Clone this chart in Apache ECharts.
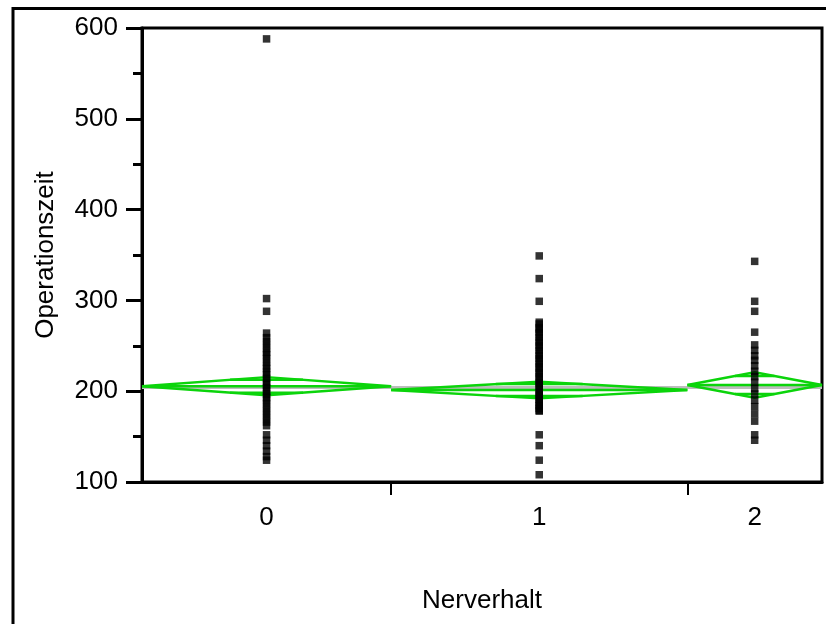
<!DOCTYPE html>
<html>
<head>
<meta charset="utf-8">
<script src="https://cdn.jsdelivr.net/npm/echarts@6/dist/echarts.min.js"></script>
<style>
html,body{margin:0;padding:0;background:#fff;}
#chart{width:826px;height:624px;}
</style>
</head>
<body>
<div id="chart"></div>
<script>
// ---- data ----
const groupLabels = ['0', '1', '2'];
const groupN = [37, 44, 20];
const groupMeans = [205.5, 201.3, 206.8];
const ciHalf = [10, 9.2, 14];
const grandMean = 204;
const yMin = 100, yMax = 600, yStep = 100;

const values0 = [588, 302, 288, 264, 259, 255, 251, 247, 243, 240, 236, 232, 228, 225, 221, 218, 214, 210, 207, 204, 200, 197, 193, 190, 186, 182, 178, 174, 170, 166, 162, 152, 146, 140, 134, 128, 124];
const values1 = [349, 324, 299, 276, 274, 270, 268, 265, 263, 259, 256, 254, 250, 248, 245, 241, 239, 236, 233, 230, 227, 225, 221, 219, 216, 213, 210, 208, 205, 202, 199, 196, 194, 191, 188, 186, 184, 181, 179, 178, 152, 140, 124, 108];
const values2 = [343, 299, 288, 265, 251, 245, 239, 234, 228, 222, 216, 210, 203, 197, 190, 183, 175, 167, 152, 146];
const groupValues = [values0, values1, values2];

// ---- derived layout in data units (group widths proportional to n) ----
const starts = [], ends = [], centers = [];
let acc = 0;
groupN.forEach(n => { starts.push(acc); centers.push(acc + n / 2); acc += n; ends.push(acc); });
const total = acc;
const boundaries = ends.slice(0, -1);

const GREEN = '#0bd40b';
const FONT = 'Liberation Sans, Arial, sans-serif';
const FS = 26;
const series = [];

// grand mean line
series.push({
  type: 'line', data: [[0, grandMean], [total, grandMean]], symbol: 'none', silent: true,
  lineStyle: { color: '#bdbdbd', width: 3 }, z: 1
});

function seg(points) {
  series.push({
    type: 'line', data: points, symbol: 'none', silent: true,
    lineStyle: { color: GREEN, width: 2.5 }, z: 2
  });
}

groupN.forEach((n, i) => {
  const m = groupMeans[i], h = ciHalf[i];
  const s = starts[i], e = ends[i], c = centers[i];
  seg([[s, m], [c, m + h], [e, m], [c, m - h], [s, m]]);
  seg([[s, m], [e, m]]);
  const o = h / Math.SQRT2;
  const hw = (1 - 1 / Math.SQRT2) * (e - s) / 2;
  seg([[c - hw, m + o], [c + hw, m + o]]);
  seg([[c - hw, m - o], [c + hw, m - o]]);
});

groupValues.forEach((vals, i) => {
  series.push({
    type: 'scatter', data: vals.map(v => [centers[i], v]),
    symbol: 'rect', symbolSize: 7.5, itemStyle: { color: '#000' }, z: 5, silent: true
  });
});

const chart = echarts.init(document.getElementById('chart'), null, { renderer: 'canvas' });
chart.setOption({
  animation: false,
  backgroundColor: '#fff',
  textStyle: { fontFamily: FONT },
  grid: { left: 142, right: 4, top: 28, bottom: 142, show: true, borderColor: '#000', borderWidth: 3, backgroundColor: 'transparent' },
  graphic: [{
    type: 'polyline', shape: { points: [[13, 640], [13, 8.5], [840, 8.5]] },
    style: { stroke: '#000', lineWidth: 3, fill: null }, silent: true, z: 10
  }],
  xAxis: {
    type: 'value', min: 0, max: total,
    name: 'Nerverhalt', nameLocation: 'middle', nameGap: 106,
    nameTextStyle: { fontSize: FS, color: '#000', fontFamily: FONT },
    axisLine: { show: true, lineStyle: { color: '#000', width: 3 } },
    axisTick: { show: true, customValues: boundaries, length: 13, lineStyle: { color: '#000', width: 2 } },
    axisLabel: {
      customValues: centers, margin: 23, fontSize: FS, color: '#000', fontFamily: FONT,
      formatter: v => { const k = centers.findIndex(c => Math.abs(c - v) < 1e-6); return k >= 0 ? groupLabels[k] : ''; }
    },
    splitLine: { show: false }
  },
  yAxis: {
    type: 'value', min: yMin, max: yMax, interval: yStep,
    name: 'Operationszeit', nameLocation: 'middle', nameGap: 83,
    nameTextStyle: { fontSize: FS, color: '#000', fontFamily: FONT },
    axisLine: { show: true, lineStyle: { color: '#000', width: 3 } },
    axisTick: { show: true, length: 16, lineStyle: { color: '#000', width: 3 } },
    minorTick: { show: true, splitNumber: 2, length: 9, lineStyle: { color: '#000', width: 3 } },
    axisLabel: { margin: 24, fontSize: FS, color: '#000', fontFamily: FONT },
    splitLine: { show: false }
  },
  series: series
});
</script>
</body>
</html>
